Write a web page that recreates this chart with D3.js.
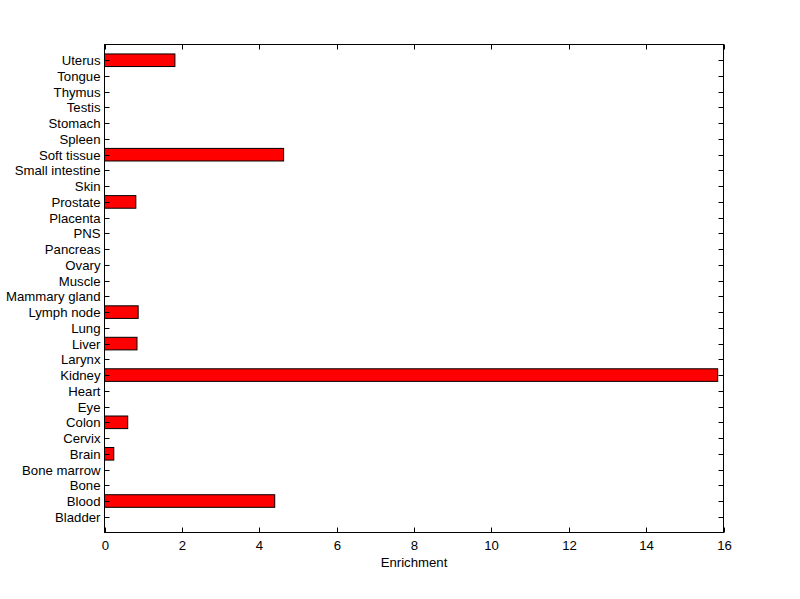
<!DOCTYPE html>
<html><head><meta charset="utf-8">
<script src="https://cdn.jsdelivr.net/npm/d3@7"></script>
<style>body{margin:0;background:#fff;}svg{display:block;}text{font-family:"Liberation Sans",Arial,sans-serif;font-size:13.2px;fill:#000;}</style>
</head><body>
<svg id="c" width="800" height="599"></svg>
<script>
const categories = ["Bladder","Blood","Bone","Bone marrow","Brain","Cervix","Colon","Eye","Heart","Kidney","Larynx","Liver","Lung","Lymph node","Mammary gland","Muscle","Ovary","Pancreas","PNS","Placenta","Prostate","Skin","Small intestine","Soft tissue","Spleen","Stomach","Testis","Thymus","Tongue","Uterus"];
const values = [0,4.40,0,0,0.24,0,0.60,0,0,15.85,0,0.84,0,0.87,0,0,0,0,0,0,0.81,0,0,4.63,0,0,0,0,0,1.82];
const xTicks = [0,2,4,6,8,10,12,14,16];
const xLabel = "Enrichment";

const svg = d3.select("#c");
const L=104.5, R=723.5, T=44.5, B=532.5;
const x = d3.scaleLinear().domain([0,16]).range([L,R]);
const y = d3.scaleLinear().domain([0,categories.length+1]).range([B,T]);
const step = Math.abs(y(1)-y(0));
const bw = step*0.8;

svg.append("rect").attr("x",L).attr("y",T).attr("width",R-L).attr("height",B-T).attr("fill","#fff");

// bars
svg.selectAll("rect.bar").data(values.map((v,i)=>({v,i}))).enter().filter(d=>d.v>0)
  .append("rect").attr("class","bar")
  .attr("x",x(0)).attr("y",d=>y(d.i+1)-bw/2).attr("width",d=>x(d.v)-x(0)).attr("height",bw)
  .attr("fill","#ff0000").attr("stroke","#000").attr("stroke-width",1);

// axes
const g = svg.append("g");
const tl=5;
xTicks.forEach(t=>{
  const px=Math.round(x(t))+0.5;
  g.append("line").attr("x1",px).attr("x2",px).attr("y1",B).attr("y2",B-tl).attr("stroke","#000");
  g.append("line").attr("x1",px).attr("x2",px).attr("y1",T).attr("y2",T+tl).attr("stroke","#000");
  g.append("text").attr("x",px).attr("y",B+17).attr("text-anchor","middle").text(t);
});
categories.forEach((c,i)=>{
  const py=Math.round(y(i+1))+0.5;
  g.append("line").attr("x1",L).attr("x2",L+tl).attr("y1",py).attr("y2",py).attr("stroke","#000");
  g.append("line").attr("x1",R).attr("x2",R-tl).attr("y1",py).attr("y2",py).attr("stroke","#000");
  g.append("text").attr("x",L-4).attr("y",py+4.5).attr("text-anchor","end").text(c);
});
svg.append("rect").attr("x",L).attr("y",T).attr("width",R-L).attr("height",B-T).attr("fill","none").attr("stroke","#000");
svg.append("text").attr("x",(L+R)/2).attr("y",B+34).attr("text-anchor","middle").text(xLabel);
</script>
</body></html>
